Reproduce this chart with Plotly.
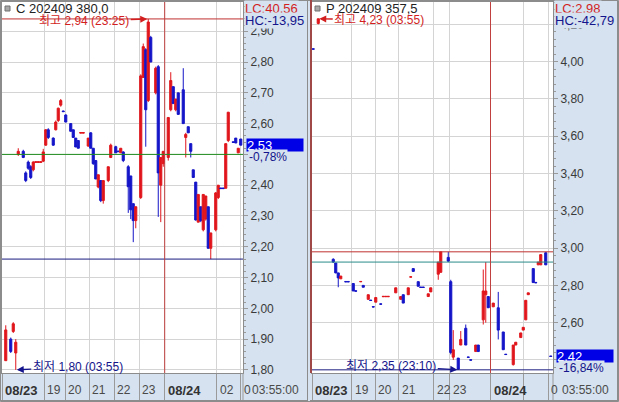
import plotly.graph_objects as go

W, H = 619, 402

# ---------------- data : left chart  (C 202409 380,0) ----------------
c_name = "C 202409 380,0"
c_idx = [1, 3, 4, 5,
         6, 8, 9, 10, 11, 12, 13, 14, 15, 16, 17, 18, 20, 21, 22, 23, 24, 25,
         27, 28, 29, 30, 31, 32, 34, 35, 36, 37, 38, 39, 40, 42, 43, 45, 46, 47, 48,
         50, 51, 52, 53, 55, 56, 57, 58, 59, 61, 62, 63, 64, 66, 67, 68, 69, 70,
         72, 73, 74, 75, 76, 77, 78, 79, 80, 81, 82, 83, 85, 86, 87, 88, 89, 90,
         92, 93, 94, 95]
c_open = [1.83, 1.90, 1.925, 1.855,
          2.50, 2.51, 2.44, 2.475, 2.46, 2.45, 2.474, 2.474, 2.474, 2.478, 2.53, 2.58, 2.553, 2.58, 2.61, 2.66, 2.641, 2.628,
          2.60, 2.58, 2.553, 2.545, 2.569, 2.569, 2.527, 2.57, 2.52, 2.48, 2.394, 2.415, 2.35, 2.415, 2.49, 2.525, 2.511, 2.505, 2.508,
          2.46, 2.43, 2.34, 2.285, 2.36, 2.75, 2.84, 2.675, 2.88, 2.70, 2.785, 2.40, 2.47, 2.49, 2.645, 2.72, 2.645, 2.70,
          2.71, 2.555, 2.59, 2.535, 2.45, 2.41, 2.28, 2.33, 2.255, 2.29, 2.33, 2.195, 2.255, 2.36, 2.391, 2.391, 2.39, 2.545,
          2.541, 2.553, 2.505, 2.55]
c_high = [1.945, 1.905, 1.955, 1.90,
          2.52, 2.515, 2.445, 2.48, 2.465, 2.478, 2.476, 2.476, 2.476, 2.518, 2.582, 2.585, 2.555, 2.61, 2.652, 2.68, 2.642, 2.63,
          2.60, 2.58, 2.553, 2.545, 2.571, 2.571, 2.553, 2.572, 2.52, 2.48, 2.434, 2.415, 2.415, 2.46, 2.535, 2.528, 2.511, 2.52, 2.51,
          2.465, 2.43, 2.34, 2.33, 2.76, 2.86, 2.845, 2.94, 2.885, 2.785, 2.79, 2.49, 2.51, 2.62, 2.767, 2.72, 2.68, 2.70,
          2.78, 2.57, 2.59, 2.535, 2.45, 2.41, 2.37, 2.33, 2.37, 2.365, 2.33, 2.245, 2.378, 2.40, 2.391, 2.391, 2.535, 2.638,
          2.541, 2.553, 2.52, 2.55]
c_low = [1.83, 1.855, 1.92, 1.80,
         2.495, 2.488, 2.41, 2.45, 2.42, 2.445, 2.474, 2.474, 2.474, 2.475, 2.528, 2.55, 2.528, 2.578, 2.605, 2.655, 2.638, 2.605,
         2.575, 2.555, 2.524, 2.52, 2.569, 2.569, 2.525, 2.52, 2.466, 2.42, 2.39, 2.345, 2.34, 2.41, 2.488, 2.505, 2.509, 2.505, 2.475,
         2.31, 2.29, 2.215, 2.26, 2.355, 2.75, 2.525, 2.67, 2.80, 2.695, 2.297, 2.28, 2.46, 2.48, 2.64, 2.665, 2.64, 2.63,
         2.60, 2.49, 2.57, 2.49, 2.425, 2.285, 2.28, 2.28, 2.25, 2.285, 2.195, 2.16, 2.25, 2.355, 2.389, 2.389, 2.39, 2.54,
         2.539, 2.537, 2.505, 2.53]
c_close = [1.93, 1.86, 1.95, 1.89,
           2.51, 2.49, 2.415, 2.455, 2.425, 2.475, 2.476, 2.476, 2.476, 2.508, 2.58, 2.555, 2.53, 2.605, 2.65, 2.675, 2.639, 2.605,
           2.575, 2.555, 2.524, 2.52, 2.571, 2.571, 2.553, 2.52, 2.47, 2.42, 2.434, 2.35, 2.415, 2.46, 2.53, 2.505, 2.509, 2.52, 2.48,
           2.395, 2.32, 2.285, 2.33, 2.755, 2.85, 2.645, 2.93, 2.80, 2.78, 2.44, 2.49, 2.51, 2.62, 2.74, 2.665, 2.68, 2.63,
           2.60, 2.565, 2.57, 2.51, 2.425, 2.287, 2.37, 2.285, 2.37, 2.365, 2.195, 2.245, 2.375, 2.40, 2.389, 2.389, 2.535, 2.637,
           2.539, 2.537, 2.52, 2.53]
c_prev_bars = 4            # bars of the previous session at the far left
c_base = 2.50
c_change = "-0,78%"
c_lc, c_hc = "40,56", "-13,95"
c_high_time, c_low_time = "23:25", "03:55"
c_xtick_vals = [-0.5, 16.42, 24.82, 34.42, 44.42, 54.42, 64.58, 85.38, 94.98]
c_xtick_text = ["<b>08/23</b>", "19", "20", "21", "22", "23", "<b>08/24</b>", "02", "0"]
c_ytick_vals = [1.8, 1.9, 2.0, 2.1, 2.2, 2.3, 2.4, 2.5, 2.6, 2.7, 2.8, 2.9]
c_ytick_text = ["1,80", "1,90", "2,00", "2,10", "2,20", "2,30", "2,40", "", "2,60", "2,70", "2,80", "2,90"]
c_yrange = [1.79, 2.995]

# ---------------- data : right chart  (P 202409 357,5) ----------------
p_name = "P 202409 357,5"
p_idx = [0, 2,
         8, 9, 10, 11, 13, 14, 16, 17, 19, 20, 22, 23, 24, 25, 27, 28, 29, 30,
         33, 35, 36, 38, 39, 40, 42, 43, 44, 46, 47, 50, 51, 54, 55, 56, 58, 59,
         61, 62, 63, 65, 66, 68, 69, 70, 72, 74, 76, 77, 80, 81, 83, 84, 85, 86,
         88, 89, 90, 91, 93, 95]
p_open = [4.069, 4.205,
          2.94, 2.92, 2.867, 2.835, 2.821, 2.821, 2.81, 2.771, 2.819, 2.80, 2.725, 2.721, 2.686, 2.71, 2.701, 2.739, 2.739, 2.739,
          2.76, 2.725, 2.75, 2.75, 2.844, 2.89, 2.82, 2.791, 2.791, 2.74, 2.765, 2.86, 2.87, 2.95, 2.82, 2.415, 2.41, 2.48,
          2.57, 2.416, 2.401, 2.445, 2.48, 2.615, 2.75, 2.74, 2.685, 2.68, 2.55, 2.431, 2.375, 2.48, 2.52, 2.56, 2.615, 2.75,
          2.89, 2.816, 2.91, 2.91, 2.975, 2.421]
p_high = [4.069, 4.23,
          2.945, 2.92, 2.867, 2.85, 2.821, 2.821, 2.81, 2.771, 2.821, 2.80, 2.75, 2.721, 2.686, 2.735, 2.701, 2.741, 2.741, 2.741,
          2.787, 2.74, 2.75, 2.787, 2.846, 2.89, 2.82, 2.791, 2.791, 2.755, 2.787, 2.925, 2.98, 2.98, 2.83, 2.56, 2.41, 2.555,
          2.59, 2.416, 2.401, 2.48, 2.48, 2.885, 2.925, 2.74, 2.705, 2.765, 2.55, 2.431, 2.48, 2.495, 2.545, 2.575, 2.72, 2.76,
          2.89, 2.816, 2.925, 2.965, 2.98, 2.421]
p_low = [4.067, 4.20,
         2.92, 2.865, 2.79, 2.835, 2.819, 2.819, 2.77, 2.769, 2.819, 2.79, 2.725, 2.719, 2.684, 2.71, 2.699, 2.739, 2.739, 2.739,
         2.76, 2.725, 2.705, 2.75, 2.844, 2.875, 2.795, 2.789, 2.789, 2.74, 2.765, 2.83, 2.87, 2.925, 2.43, 2.40, 2.347, 2.48,
         2.48, 2.414, 2.399, 2.445, 2.445, 2.59, 2.60, 2.68, 2.685, 2.51, 2.455, 2.429, 2.37, 2.48, 2.52, 2.56, 2.615, 2.75,
         2.815, 2.814, 2.91, 2.91, 2.91, 2.419]
p_close = [4.067, 4.23,
           2.925, 2.867, 2.84, 2.85, 2.819, 2.819, 2.77, 2.769, 2.821, 2.79, 2.75, 2.719, 2.684, 2.735, 2.699, 2.741, 2.741, 2.741,
           2.787, 2.74, 2.705, 2.787, 2.846, 2.875, 2.795, 2.789, 2.789, 2.755, 2.787, 2.925, 2.98, 2.93, 2.44, 2.455, 2.35, 2.51,
           2.48, 2.414, 2.399, 2.48, 2.445, 2.77, 2.77, 2.68, 2.705, 2.56, 2.455, 2.429, 2.48, 2.495, 2.545, 2.575, 2.72, 2.76,
           2.815, 2.814, 2.925, 2.965, 2.91, 2.419]
p_prev_bars = 2
p_base = 2.925
p_change = "-16,84%"
p_lc, p_hc = "2,98", "-42,79"
p_high_time, p_low_time = "03:55", "23:10"
p_xtick_vals = [-0.5, 15.42, 24.78, 34.22, 48.1, 54.5, 70.9, 84.1, 93.98]
p_xtick_text = ["<b>08/23</b>", "19", "20", "21", "22", "23", "<b>08/24</b>", "", "0"]
p_ytick_vals = [2.4, 2.6, 2.8, 3.0, 3.2, 3.4, 3.6, 3.8, 4.0, 4.2]
p_ytick_text = ["", "2,60", "2,80", "3,00", "3,20", "3,40", "3,60", "3,80", "4,00", "4,20"]
p_yrange = [2.33, 4.32]

last_time = "03:55:00"

# ---------------- style ----------------
FONT = "Liberation Sans, Noto Sans CJK KR, sans-serif"
RED = "#e0161c"
BLUE = "#1414c8"
TXT_RED = "#d21e1e"
TXT_NAVY = "#14148c"
PANEL = "#d6e2ef"
GRID = "#d4d4d4"
SEP = "#9a9a9a"
BORDER = "#8c8c8c"
TXT = "#3a3a3a"


def xp(px):
    return px / W


def yp(py):
    return 1 - py / H


def fmt(v):
    return f"{v:.2f}".replace(".", ",")


fig = go.Figure()

for name, xs, o, h, l, c, xa, ya in [
    ("C", c_idx, c_open, c_high, c_low, c_close, "x", "y"),
    ("P", p_idx, p_open, p_high, p_low, p_close, "x2", "y2"),
]:
    fig.add_trace(go.Candlestick(
        x=xs, open=o, high=h, low=l, close=c, xaxis=xa, yaxis=ya, name=name,
        increasing=dict(line=dict(color=RED, width=1), fillcolor=RED),
        decreasing=dict(line=dict(color=BLUE, width=1), fillcolor=BLUE),
        whiskerwidth=0, showlegend=False, hoverinfo="skip"))

plot_y = [yp(373), yp(2)]
panels = [
    dict(dom=[xp(2), xp(243)], ax="x", ay="y", tv=c_xtick_vals, tt=c_xtick_text,
         yv=c_ytick_vals, yt=c_ytick_text, yr=c_yrange, mdt=0.02),
    dict(dom=[xp(312), xp(553)], ax="x2", ay="y2", tv=p_xtick_vals, tt=p_xtick_text,
         yv=p_ytick_vals, yt=p_ytick_text, yr=p_yrange, mdt=0.04),
]
layout_axes = {}
annotations = []
for i, pnl in enumerate(panels):
    sx = "" if i == 0 else "2"
    layout_axes["xaxis" + sx] = dict(
        domain=pnl["dom"], range=[-0.5, 95.9], anchor=pnl["ay"],
        tickmode="array", tickvals=pnl["tv"], showticklabels=False,
        showgrid=True, gridcolor=GRID, gridwidth=1,
        ticks="outside", ticklen=27, tickcolor=SEP, tickwidth=1,
        showline=True, linecolor=BORDER, mirror=True, zeroline=False,
        automargin=False, rangeslider=dict(visible=False), fixedrange=True)
    layout_axes["yaxis" + sx] = dict(
        domain=plot_y, range=pnl["yr"], anchor=pnl["ax"], side="right",
        tickmode="array", tickvals=pnl["yv"], ticktext=pnl["yt"],
        ticks="outside", ticklen=4, tickcolor=SEP,
        minor=dict(tickmode="linear", dtick=pnl["mdt"], tick0=0, ticklen=2, tickcolor=SEP,
                   ticks="outside", showgrid=False),
        showgrid=True, gridcolor=GRID, gridwidth=1, zeroline=False,
        showline=True, linecolor=BORDER, mirror=True, automargin=False,
        tickfont=dict(family=FONT, size=12, color=TXT), fixedrange=True)
    # time-axis labels, left-aligned just after each separator
    for v, t in zip(pnl["tv"], pnl["tt"]):
        annotations.append(dict(x=v, y=yp(390), xref=pnl["ax"], yref="paper", text=t,
                                showarrow=False, xanchor="left", yanchor="middle", xshift=1,
                                font=dict(family=FONT, size=13 if t.startswith("<b>") else 12,
                                          color="#333333" if t.startswith("<b>") else "#4a4a4a")))

shapes = []

charts = [
    dict(ax="x", ay="y", idx=c_idx, hi=c_high, lo=c_low, cl=c_close, prev=c_prev_bars,
         base=c_base, base_col="#1e8c1e", tv=c_xtick_vals, name=c_name, lc=c_lc, hc=c_hc,
         chg=c_change, ht=c_high_time, lt=c_low_time, x0=0, hi_ax=-64, hi_ay=2, lo_ax=62, lo_ay=-3),
    dict(ax="x2", ay="y2", idx=p_idx, hi=p_high, lo=p_low, cl=p_close, prev=p_prev_bars,
         base=p_base, base_col="#2a8a8a", tv=p_xtick_vals, name=p_name, lc=p_lc, hc=p_hc,
         chg=p_change, ht=p_high_time, lt=p_low_time, x0=310, hi_ax=61, hi_ay=1, lo_ax=-67, lo_ay=-4),
]

for ch in charts:
    xa, ya, x0 = ch["ax"], ch["ay"], ch["x0"]
    sess_hi = max(ch["hi"][ch["prev"]:])
    sess_lo = min(ch["lo"][ch["prev"]:])
    # session high / base / session low lines
    for val, col in [(sess_hi, "#c03030"), (ch["base"], ch["base_col"]), (sess_lo, "#1a1a80")]:
        shapes.append(dict(type="line", xref=xa + " domain", yref=ya, x0=0, x1=1,
                           y0=val, y1=val, line=dict(color=col, width=1)))
    # day boundary (08/24)
    shapes.append(dict(type="line", xref=xa, yref=ya + " domain", x0=ch["tv"][6], x1=ch["tv"][6],
                       y0=0, y1=1, line=dict(color="#c04040", width=1)))
    # overall high / low markers
    hi_all = max(ch["hi"])
    lo_all = min(ch["lo"])
    hi_x = ch["idx"][ch["hi"].index(hi_all)]
    lo_x = ch["idx"][ch["lo"].index(lo_all)]
    annotations.append(dict(x=hi_x, y=hi_all, xref=xa, yref=ya, text=f"최고 {fmt(hi_all)} ({ch['ht']})",
                            showarrow=True, ax=ch["hi_ax"], ay=ch["hi_ay"], arrowhead=2, arrowsize=1,
                            arrowwidth=1.4, arrowcolor=TXT_RED, standoff=1,
                            font=dict(family=FONT, size=12, color=TXT_RED)))
    annotations.append(dict(x=lo_x, y=lo_all, xref=xa, yref=ya, text=f"최저 {fmt(lo_all)} ({ch['lt']})",
                            showarrow=True, ax=ch["lo_ax"], ay=ch["lo_ay"], arrowhead=2, arrowsize=1,
                            arrowwidth=1.4, arrowcolor=TXT_NAVY, standoff=1,
                            font=dict(family=FONT, size=12, color=TXT_NAVY)))
    # title with small square icon
    shapes.append(dict(type="rect", xref="paper", yref="paper", x0=xp(x0 + 5), x1=xp(x0 + 10),
                       y0=yp(11), y1=yp(6), fillcolor="#a8a8a8", line=dict(color="#707070", width=1)))
    annotations.append(dict(x=xp(x0 + 14), y=yp(9), xref="paper", yref="paper", text=ch["name"],
                            showarrow=False, xanchor="left", yanchor="middle",
                            font=dict(family=FONT, size=13, color="#222222")))
    # LC / HC
    annotations.append(dict(x=xp(x0 + 244), y=yp(9), xref="paper", yref="paper", text=f"LC:{ch['lc']}",
                            showarrow=False, xanchor="left", yanchor="middle", bgcolor=PANEL, borderpad=0,
                            font=dict(family=FONT, size=13, color=TXT_RED)))
    annotations.append(dict(x=xp(x0 + 244), y=yp(20), xref="paper", yref="paper", text=f"HC:{ch['hc']}",
                            showarrow=False, xanchor="left", yanchor="middle", bgcolor=PANEL, borderpad=0,
                            font=dict(family=FONT, size=13, color=TXT_NAVY)))
    # current price box + change
    last = ch["cl"][-1]
    annotations.append(dict(x=xp(x0 + 246), y=last, xref="paper", yref=ya, text=fmt(last),
                            showarrow=False, xanchor="left", yanchor="middle", align="left",
                            width=56, height=12, bgcolor="#0000e6", borderpad=0,
                            font=dict(family=FONT, size=13, color="white")))
    annotations.append(dict(x=xp(x0 + 248), y=last, xref="paper", yref=ya, text=ch["chg"],
                            showarrow=False, xanchor="left", yanchor="middle", yshift=-12,
                            bgcolor=PANEL, borderpad=0,
                            font=dict(family=FONT, size=12, color=TXT_NAVY)))
    # time label in axis corner
    annotations.append(dict(x=xp(x0 + 250), y=yp(390), xref="paper", yref="paper", text=last_time,
                            showarrow=False, xanchor="left", yanchor="middle",
                            font=dict(family=FONT, size=12, color="#4a4a4a")))
    # frame pieces
    shapes.append(dict(type="line", xref="paper", yref="paper", x0=xp(x0 + 243), x1=xp(x0 + 243),
                       y0=yp(400), y1=yp(373), line=dict(color=SEP, width=1)))
    shapes.append(dict(type="line", xref="paper", yref="paper", x0=xp(x0), x1=xp(x0 + 307),
                       y0=yp(400.5), y1=yp(400.5), line=dict(color=BORDER, width=1)))
    shapes.append(dict(type="line", xref="paper", yref="paper", x0=xp(x0 + 307.5), x1=xp(x0 + 307.5),
                       y0=yp(401), y1=yp(0), line=dict(color=BORDER, width=1)))

# outer frame + active-panel marker
shapes.append(dict(type="rect", xref="paper", yref="paper", x0=xp(0.5), x1=xp(618.5),
                   y0=yp(401.5), y1=yp(0.5), line=dict(color=BORDER, width=1)))
shapes.append(dict(type="line", xref="paper", yref="paper", x0=xp(311), x1=xp(311),
                   y0=yp(373), y1=yp(0), line=dict(color="#a04848", width=2)))

fig.update_layout(
    width=W, height=H, margin=dict(l=0, r=0, t=0, b=0, autoexpand=False),
    paper_bgcolor=PANEL, plot_bgcolor="white",
    boxgap=0.15, boxgroupgap=0,
    showlegend=False, dragmode=False,
    shapes=shapes, annotations=annotations,
    **layout_axes,
)

fig.write_html("out.html", config={"displayModeBar": False},
               post_script="document.body.style.margin='0';document.body.style.overflow='hidden';")
